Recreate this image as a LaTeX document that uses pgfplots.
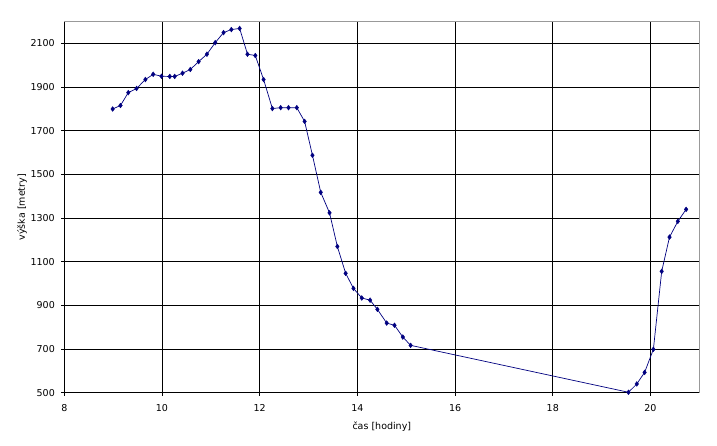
\documentclass[border=0pt]{standalone}
\usepackage{pgfplots}
\pgfplotsset{compat=1.18}
\usepackage{fontspec}
\setmainfont{DejaVu Sans}
\definecolor{navy}{RGB}{0,0,128}
\begin{document}
\fontsize{9.5}{11}\selectfont
\begin{tikzpicture}
\path[use as bounding box, fill=white] (-64.3pt,-53.3pt) rectangle (652.7pt,392.7pt);
\begin{axis}[
  at={(0,0)}, anchor=south west,
  scale only axis, width=635pt, height=371pt,
  xmin=8, xmax=21, ymin=500, ymax=2200,
  xtick={8,10,...,20}, ytick={500,700,...,2100},
  tick pos=left, tick align=outside, major tick length=3pt,
  every tick/.style={black, line width=0.8pt},
  grid=major, major grid style={black, line width=0.8pt},
  axis line style={draw=none},
  /pgf/number format/assume math mode=true,
  /pgf/number format/1000 sep={},
  ticklabel style={font=\fontsize{9.5}{11}\selectfont, inner sep=0pt},
  xticklabel style={anchor=north, yshift=-8.3pt},
  yticklabel style={anchor=east, xshift=-6.3pt},
  xlabel={čas [hodiny]}, ylabel={výška [metry]},
  every axis x label/.style={at={(axis description cs:0.5,0)}, anchor=center, yshift=-34pt, font=\fontsize{9.5}{11}\selectfont},
  every axis y label/.style={at={([xshift=-42.3pt]axis description cs:0,0.5)}, rotate=90, anchor=center, font=\fontsize{9.5}{11}\selectfont},
  clip=false,
]
\draw[gray!80, line width=0.8pt] (rel axis cs:0,1) -- (rel axis cs:1,1) -- (rel axis cs:1,0);
\addplot[navy, line width=0.7pt, mark=diamond*, mark size=2.4pt, mark options={fill=navy, draw=navy, line width=0.4pt}] coordinates {
(8.99,1800) (9.15,1816) (9.31,1875) (9.48,1894) (9.66,1935) (9.82,1959)
(9.99,1950) (10.16,1949) (10.26,1949) (10.42,1964) (10.58,1981) (10.75,2017)
(10.92,2051) (11.09,2104) (11.26,2150) (11.42,2164) (11.59,2169) (11.75,2051)
(11.91,2045) (12.08,1935) (12.26,1802) (12.43,1806) (12.59,1806) (12.76,1806)
(12.92,1743) (13.08,1588) (13.25,1418) (13.43,1324) (13.59,1170) (13.76,1047)
(13.92,978) (14.09,934) (14.26,924) (14.41,882) (14.60,819) (14.76,809)
(14.93,755) (15.09,717) (19.55,502) (19.72,540) (19.88,593) (20.06,699)
(20.23,1056) (20.39,1213) (20.56,1285) (20.73,1340)
};
\end{axis}
\end{tikzpicture}
\end{document}
